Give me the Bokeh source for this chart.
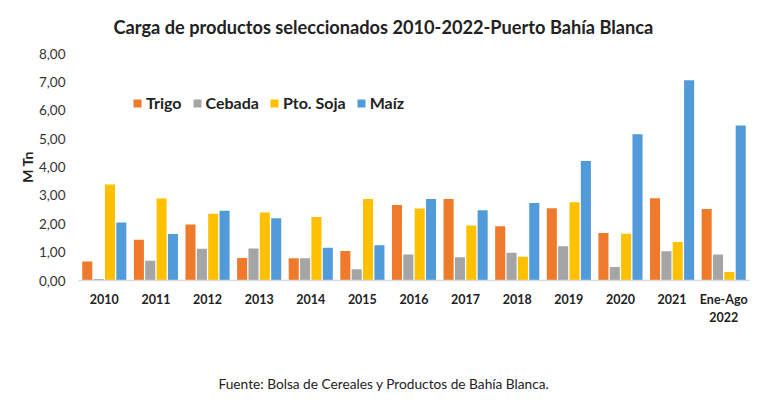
from bokeh.plotting import figure
from bokeh.models import (ColumnDataSource, FactorRange, Range1d, Title, Legend, LegendItem,
                          FixedTicker, CategoricalAxis)
from bokeh.transform import dodge
from bokeh.embed import file_html
from bokeh.resources import INLINE

years = ["2010", "2011", "2012", "2013", "2014", "2015", "2016", "2017",
         "2018", "2019", "2020", "2021", "Ene-Ago\n2022"]
trigo = [0.67, 1.44, 1.97, 0.79, 0.78, 1.04, 2.66, 2.87, 1.91, 2.55, 1.67, 2.90, 2.52]
cebada = [0.05, 0.70, 1.12, 1.13, 0.78, 0.40, 0.92, 0.82, 0.98, 1.21, 0.48, 1.03, 0.92]
soja = [3.38, 2.89, 2.35, 2.40, 2.24, 2.87, 2.54, 1.94, 0.84, 2.76, 1.65, 1.36, 0.30]
maiz = [2.04, 1.64, 2.46, 2.19, 1.15, 1.24, 2.87, 2.48, 2.73, 4.21, 5.15, 7.06, 5.46]
y_ticks = [0, 1, 2, 3, 4, 5, 6, 7, 8]
y_tick_labels = ["0,00", "1,00", "2,00", "3,00", "4,00", "5,00", "6,00", "7,00", "8,00"]
series_names = ["Trigo", "Cebada", "Pto. Soja", "Maíz"]
title_text = "Carga de productos seleccionados 2010-2022-Puerto Bahía Blanca"
source_text = "Fuente: Bolsa de Cereales y Productos de Bahía Blanca."

FONT = "Lato"
colors = ["#F07A2C", "#A5A5A5", "#FFC000", "#529BDA"]

src = ColumnDataSource(dict(year=years, trigo=trigo, cebada=cebada, soja=soja, maiz=maiz))

p = figure(x_range=FactorRange(*years, range_padding=0, factor_padding=0),
           y_range=Range1d(0, 8),
           width=768, height=409, output_backend="svg", toolbar_location=None,
           min_border_left=78, min_border_right=19, min_border_top=53, min_border_bottom=129)
p.outline_line_color = None
p.xgrid.grid_line_color = None
p.ygrid.grid_line_color = None

offsets = [-0.33, -0.11, 0.11, 0.33]
cols = ["trigo", "cebada", "soja", "maiz"]
renderers = []
for off, c, col in zip(offsets, cols, colors):
    r = p.vbar(x=dodge("year", off, range=p.x_range), top=c, width=0.195,
               source=src, fill_color=col, line_color=None)
    renderers.append(r)

legend = Legend(items=[LegendItem(label=n, renderers=[r]) for n, r in zip(series_names, renderers)],
                orientation="horizontal", location=(54, 168),
                background_fill_alpha=0, border_line_color=None,
                glyph_width=10, glyph_height=10, label_standoff=4, spacing=10, padding=0, margin=0,
                label_text_font=FONT, label_text_font_style="bold", label_text_font_size="16px",
                label_text_color="#222222")
p.add_layout(legend, "center")

# y axis
p.yaxis.ticker = FixedTicker(ticks=y_ticks)
p.yaxis.major_label_overrides = {t: l for t, l in zip(y_ticks, y_tick_labels)}
p.yaxis.axis_line_color = None
p.yaxis.major_tick_line_color = None
p.yaxis.minor_tick_line_color = None
p.yaxis.major_tick_out = 0
p.yaxis.major_tick_in = 0
p.yaxis.major_label_text_font = FONT
p.yaxis.major_label_text_font_size = "13.5px"
p.yaxis.major_label_text_color = "#333333"
p.yaxis.major_label_standoff = 13
p.yaxis.axis_label = "M Tn"
p.yaxis.axis_label_text_font = FONT
p.yaxis.axis_label_text_font_style = "bold"
p.yaxis.axis_label_text_font_size = "14px"
p.yaxis.axis_label_text_color = "#222222"
p.yaxis.axis_label_standoff = 0

# x axis
p.xaxis.axis_line_color = "#D9D9D9"
p.xaxis.axis_line_width = 1.5
p.xaxis.major_tick_line_color = None
p.xaxis.minor_tick_line_color = None
p.xaxis.major_tick_out = 0
p.xaxis.major_tick_in = 0
p.xaxis.major_label_text_font = FONT
p.xaxis.major_label_text_font_style = "bold"
p.xaxis.major_label_text_font_size = "12.5px"
p.xaxis.major_label_text_color = "#222222"
p.xaxis.major_label_standoff = 11


def spacer(size):
    # invisible axis used only to reserve blank space in a side panel
    return CategoricalAxis(axis_line_color=None, major_tick_line_color=None,
                           minor_tick_line_color=None, major_tick_out=size, major_tick_in=0,
                           major_label_standoff=0, major_label_text_font_size="1px",
                           major_label_text_color=None, major_label_text_alpha=0,
                           major_label_overrides={y: "" for y in years})


# title (above, separated from the frame by a blank spacer)
p.add_layout(spacer(16), "above")
p.add_layout(Title(text=title_text, align="left", offset=35, standoff=0,
                   text_font=FONT, text_font_style="bold", text_font_size="18.2px",
                   text_color="#222222"), "above")

# source note (below the category axis, separated by a blank spacer)
p.add_layout(spacer(45), "below")
p.add_layout(Title(text=source_text, align="left", offset=140, standoff=0,
                   text_font=FONT, text_font_style="normal", text_font_size="13.7px",
                   text_color="#222222"), "below")

open("out.html", "w").write(file_html(p, INLINE))
